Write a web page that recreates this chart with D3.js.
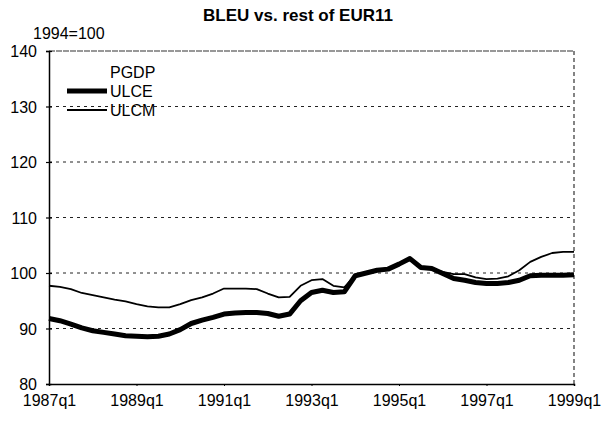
<!DOCTYPE html>
<html>
<head>
<meta charset="utf-8">
<script src="https://cdn.jsdelivr.net/npm/d3@7"></script>
<style>
  body { margin: 0; background: #fff; }
  svg text { font-family: Arial, "Liberation Sans", sans-serif; fill: #000; }
</style>
</head>
<body>
<div id="chart"></div>
<script>
// quarters 1987q1 .. 1999q1
var startYear = 1987;
var nQuarters = 49;
var tickLabels = ["1987q1", "1989q1", "1991q1", "1993q1", "1995q1", "1997q1", "1999q1"];
var yTicks = [80, 90, 100, 110, 120, 130, 140];

var ulce = [91.8, 91.4, 90.8, 90.1, 89.6, 89.3, 89.0, 88.7, 88.6, 88.5,
            88.6, 89.0, 89.8, 90.9, 91.5, 92.0, 92.6, 92.8, 92.9, 92.9,
            92.7, 92.2, 92.6, 95.0, 96.5, 96.9, 96.5, 96.6, 99.5, 100.0,
            100.5, 100.7, 101.6, 102.6, 101.0, 100.8, 99.9, 99.0, 98.7, 98.3,
            98.1, 98.1, 98.3, 98.7, 99.5, 99.6, 99.6, 99.6, 99.7];

var ulcm = [97.7, 97.5, 97.1, 96.4, 96.0, 95.6, 95.2, 94.9, 94.4, 94.0,
            93.8, 93.8, 94.4, 95.1, 95.6, 96.3, 97.2, 97.2, 97.2, 97.1,
            96.3, 95.6, 95.7, 97.7, 98.7, 98.9, 97.7, 97.4, 99.6, 100.2,
            100.6, 100.8, 101.6, 102.6, 101.0, 100.8, 100.2, 99.8, 99.8, 99.2,
            98.9, 99.0, 99.4, 100.5, 102.0, 102.9, 103.6, 103.8, 103.8];

var seriesNames = ["PGDP", "ULCE", "ULCM"];

var margin = { top: 51, right: 33, bottom: 38, left: 49 };
var W = 607, H = 422;
var width = W - margin.left - margin.right,
    height = H - margin.top - margin.bottom;

var svg = d3.select("#chart").append("svg")
    .attr("width", W)
    .attr("height", H);

var g = svg.append("g")
    .attr("transform", "translate(" + margin.left + "," + margin.top + ")");

var x = d3.scaleLinear().domain([0, nQuarters - 1]).range([0, width]);
var y = d3.scaleLinear().domain([80, 140]).range([height, 0]);

// title
svg.append("text")
    .attr("x", 298).attr("y", 21)
    .attr("text-anchor", "middle")
    .style("font-size", "17px").style("font-weight", "bold")
    .text("BLEU vs. rest of EUR11");

svg.append("text")
    .attr("x", 33).attr("y", 39)
    .style("font-size", "16px")
    .text("1994=100");

// gridlines
g.selectAll(".grid").data([90, 100, 110, 120, 130]).enter().append("line")
    .attr("x1", 0).attr("x2", width)
    .attr("y1", function(d) { return y(d); })
    .attr("y2", function(d) { return y(d); })
    .attr("stroke", "#222").attr("stroke-width", 1)
    .attr("stroke-dasharray", "3,4");

// top and right border
g.append("line")
    .attr("x1", 0).attr("x2", width).attr("y1", y(140)).attr("y2", y(140))
    .attr("stroke", "#333").attr("stroke-width", 1.2)
    .attr("stroke-dasharray", "6,1");
g.append("line")
    .attr("x1", width).attr("x2", width).attr("y1", y(140)).attr("y2", y(80))
    .attr("stroke", "#333").attr("stroke-width", 1.2)
    .attr("stroke-dasharray", "4,3");

// axes
var yAxis = d3.axisLeft(y).tickValues(yTicks).tickSize(3).tickPadding(9);
var yg = g.append("g").call(yAxis);
yg.select(".domain").attr("stroke", "#000").attr("stroke-width", 1.5);
yg.selectAll(".tick line").attr("x2", 3).attr("x1", -3).attr("stroke-width", 1.2);
yg.selectAll("text").style("font-size", "16px").attr("dy", "0.36em");

var xAxis = d3.axisBottom(x)
    .tickValues(d3.range(0, nQuarters, 8))
    .tickFormat(function(d, i) { return tickLabels[i]; })
    .tickSize(2).tickPadding(9);
var xg = g.append("g").attr("transform", "translate(0," + height + ")").call(xAxis);
xg.select(".domain").attr("stroke", "#000").attr("stroke-width", 1.5);
xg.selectAll("text").style("font-size", "16px");

// lines
var line = d3.line()
    .x(function(d, i) { return x(i); })
    .y(function(d) { return y(d); });

g.append("path").datum(ulcm)
    .attr("fill", "none").attr("stroke", "#000").attr("stroke-width", 1.8)
    .attr("stroke-linejoin", "round")
    .attr("d", line);

g.append("path").datum(ulce)
    .attr("fill", "none").attr("stroke", "#000").attr("stroke-width", 5)
    .attr("stroke-linejoin", "round")
    .attr("d", line);

// legend
var legend = svg.append("g").attr("transform", "translate(67,72)");
var legWidths = [0, 5, 1.8];
seriesNames.forEach(function(name, i) {
    var ly = i * 19;
    if (legWidths[i] > 0) {
        legend.append("line")
            .attr("x1", 0).attr("x2", 40).attr("y1", ly).attr("y2", ly)
            .attr("stroke", "#000").attr("stroke-width", legWidths[i]);
    }
    legend.append("text")
        .attr("x", 43).attr("y", ly).attr("dy", "0.36em")
        .style("font-size", "16px")
        .text(name);
});
</script>
</body>
</html>
